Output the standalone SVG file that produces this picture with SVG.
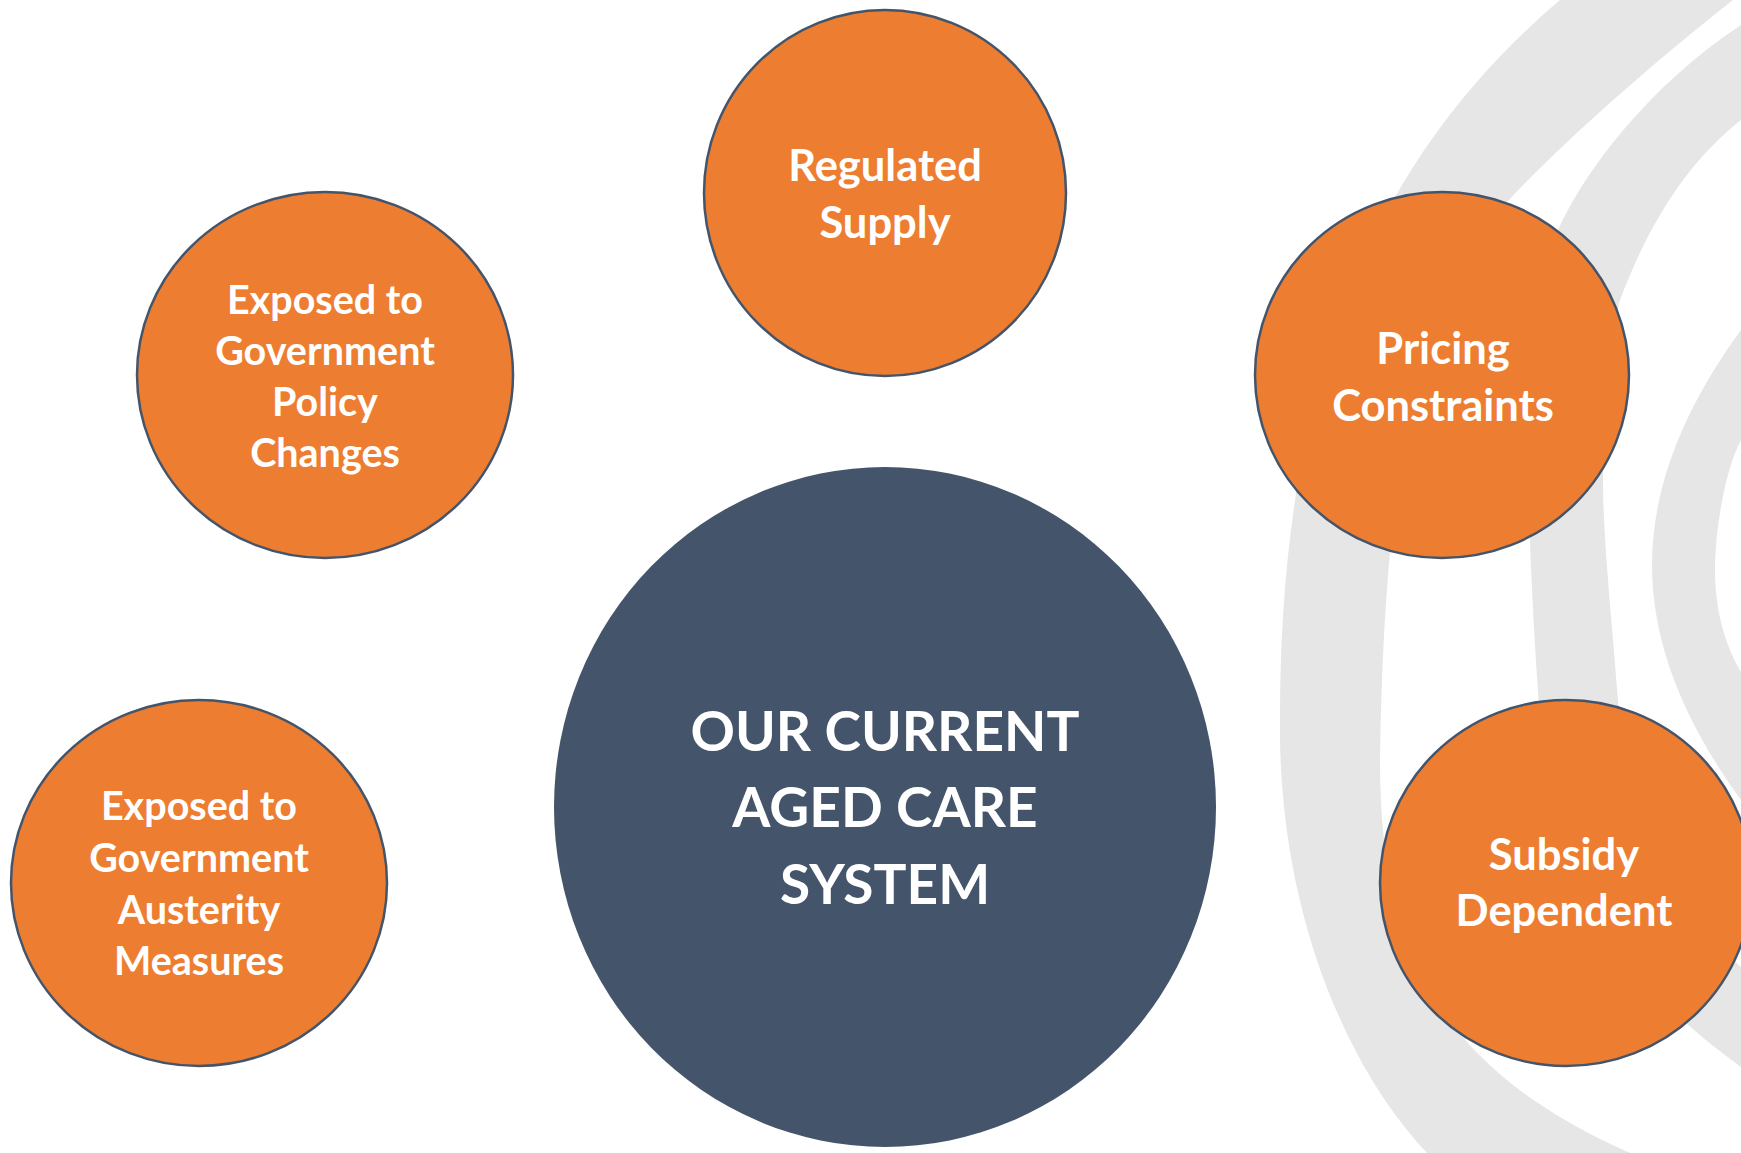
<svg xmlns="http://www.w3.org/2000/svg" width="1741" height="1153" viewBox="0 0 1741 1153">
<style>
.band{fill:#e6e6e6;stroke:none}
.node{fill:#ed7d31;stroke:#44546a;stroke-width:2.5}
.core{fill:#44546a;stroke:none}
.t{font-family:Lato,"Open Sans","Liberation Sans",sans-serif;font-weight:700;fill:#ffffff;text-anchor:middle}
.s38{font-size:39.5px}
.s42{font-size:43.5px}
.s55{font-size:55px}
</style>
<rect x="0" y="0" width="1741" height="1153" fill="#ffffff"/>
<g id="background">
<path class="band" d="M1560,0 C1360,170 1280,400 1280,720 C1278,900 1340,1060 1427,1153 L1630,1153 C1430,1065 1380,940 1380,760 C1385,450 1420,300 1507,202 C1560,145 1650,65 1733,0 Z"/>
<path class="band" d="M1741,25 C1650,85 1585,170 1558,230 C1530,300 1526,400 1528,480 C1530,560 1534,640 1540,720 C1555,880 1620,980 1741,1067 L1741,967 C1680,910 1625,820 1618,700 C1612,620 1603,540 1603,480 C1603,400 1610,340 1620,300 C1650,220 1690,160 1741,120 Z"/>
<path class="band" d="M1741,330 C1690,400 1652,480 1652,565 C1652,650 1690,730 1741,800 L1741,672 C1725,645 1715,610 1715,570 C1715,530 1725,470 1741,440 Z"/>
</g>
<g id="connectors"></g>
<g id="node-regulated-supply">
<ellipse class="node" cx="885" cy="193" rx="181" ry="183"/>
<text class="t s42" x="885" y="181">Regulated</text>
<text class="t s42" x="885" y="238">Supply</text>
</g>
<g id="node-policy-changes">
<ellipse class="node" cx="325" cy="375" rx="188" ry="183"/>
<text class="t s38" x="325" y="314">Exposed to</text>
<text class="t s38" x="325" y="365">Government</text>
<text class="t s38" x="325" y="416">Policy</text>
<text class="t s38" x="325" y="467">Changes</text>
</g>
<g id="node-pricing-constraints">
<ellipse class="node" cx="1442" cy="375" rx="187" ry="183"/>
<text class="t s42" x="1443" y="364">Pricing</text>
<text class="t s42" x="1443" y="421">Constraints</text>
</g>
<g id="node-austerity-measures">
<ellipse class="node" cx="199" cy="883" rx="188" ry="183"/>
<text class="t s38" x="199" y="820">Exposed to</text>
<text class="t s38" x="199" y="872">Government</text>
<text class="t s38" x="199" y="924">Austerity</text>
<text class="t s38" x="199" y="975">Measures</text>
</g>
<g id="node-subsidy-dependent">
<ellipse class="node" cx="1566" cy="883" rx="186" ry="183"/>
<text class="t s42" x="1564" y="870">Subsidy</text>
<text class="t s42" x="1564" y="926">Dependent</text>
</g>
<g id="node-core">
<ellipse class="core" cx="885" cy="807" rx="331" ry="340"/>
<text class="t s55" x="885" y="751">OUR CURRENT</text>
<text class="t s55" x="885" y="827">AGED CARE</text>
<text class="t s55" x="885" y="904">SYSTEM</text>
</g>
</svg>
